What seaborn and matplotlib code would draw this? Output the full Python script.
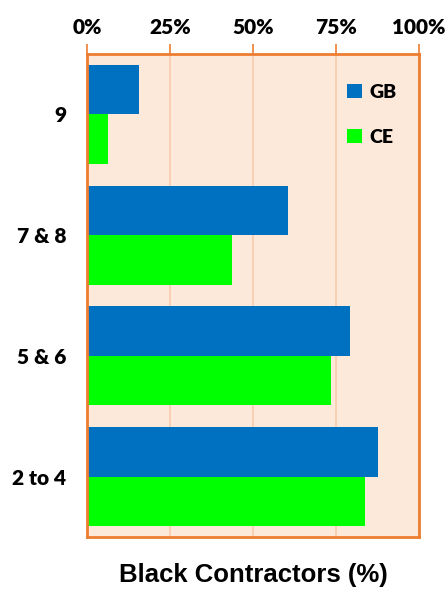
import pandas as pd
import matplotlib.pyplot as plt
import seaborn as sns

# Datos (porcentaje de contratistas negros)
grupos = ["9", "7 & 8", "5 & 6", "2 to 4"]
gb = [15.6, 60.4, 79.3, 87.8]
ce = [6.4, 43.7, 73.5, 83.7]
series = ["GB", "CE"]
xticks = [0, 25, 50, 75, 100]

df = pd.DataFrame({
    "grupo": grupos * 2,
    "valor": gb + ce,
    "serie": ["GB"] * len(grupos) + ["CE"] * len(grupos),
})

sns.set_style("white")
plt.rcParams["font.family"] = ["Lato", "DejaVu Sans"]
plt.rcParams["text.color"] = "black"
plt.rcParams["xtick.color"] = "black"
plt.rcParams["ytick.color"] = "black"

naranja = "#ED7D31"
fig = plt.figure(figsize=(4.46, 5.92), dpi=100)
ax = fig.add_axes([87 / 446, 1 - 537 / 592, 332 / 446, 483 / 592])
ax.set_facecolor("#FDE9D9")

sns.barplot(data=df, x="valor", y="grupo", hue="serie", order=grupos,
            hue_order=series, palette=["#0070C0", "#00FF00"], orient="h",
            width=0.82, saturation=1, edgecolor="none", ax=ax)

ax.set_xlim(0, 100)
ax.set_ylim(3.5, -0.5)
ax.set_xticks(xticks)
ax.set_xticklabels([f"{t}%" for t in xticks], fontsize=15, fontweight="heavy")
ax.xaxis.tick_top()
ax.tick_params(axis="x", length=7, color=naranja, width=1.2, pad=5,
               labelcolor="black")
ax.set_yticks(range(len(grupos)))
ax.set_yticklabels(grupos, fontsize=15, fontweight="heavy")
ax.tick_params(axis="y", length=0, pad=15, labelcolor="black")
ax.set_yticks([-0.5, 0.5, 1.5, 2.5, 3.5], minor=True)
ax.tick_params(axis="y", which="minor", length=7, color=naranja, width=1.2)

ax.grid(axis="x", color="#F8CBAD", linewidth=1.2)
ax.set_axisbelow(True)
for s in ax.spines.values():
    s.set_color(naranja)
    s.set_linewidth(2)

ax.set_ylabel("")
ax.xaxis.set_label_position("bottom")
ax.set_xlabel("Black Contractors (%)", fontsize=18.5, fontweight="bold",
              family="Liberation Sans", labelpad=19, color="black")

handles, labels = ax.get_legend_handles_labels()
ax.legend(handles, labels, loc="upper left", bbox_to_anchor=(0.731, 0.975),
          frameon=False, handlelength=0.75, handleheight=0.75, handletextpad=0.4,
          labelspacing=1.45, prop={"family": "Lato", "weight": "heavy", "size": 14})

plt.savefig("out.png", dpi=100)
